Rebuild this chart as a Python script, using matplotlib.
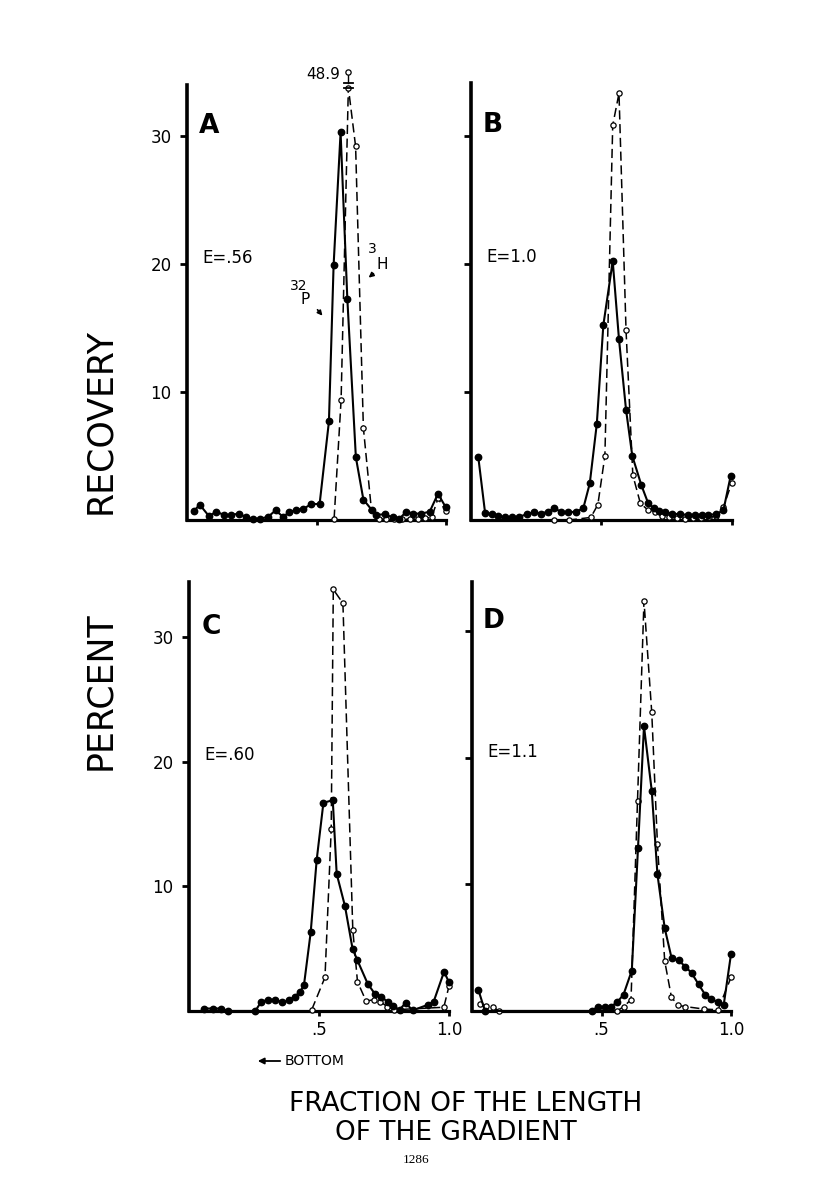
import matplotlib
matplotlib.use('Agg')
import matplotlib.pyplot as plt

W, H = 816, 1201

# panel A, E=.56
a_p_x = [0.027, 0.049, 0.085, 0.113, 0.142, 0.171, 0.201, 0.229, 0.255, 0.283,
         0.313, 0.342, 0.371, 0.394, 0.422, 0.448, 0.480, 0.512, 0.548, 0.566,
         0.593, 0.619, 0.652, 0.681, 0.713, 0.731, 0.763, 0.795, 0.820, 0.847,
         0.873, 0.905, 0.937, 0.969, 0.999]
a_p_y = [0.7, 1.2, 0.3, 0.65, 0.4, 0.4, 0.5, 0.2, 0.1, 0.1,
         0.25, 0.75, 0.25, 0.6, 0.8, 0.85, 1.25, 1.25, 7.7, 19.9,
         30.3, 17.3, 4.9, 1.6, 0.8, 0.4, 0.45, 0.2, 0.1, 0.65,
         0.5, 0.5, 0.65, 2.05, 1.0]
a_h_x = [0.568, 0.595, 0.623, 0.651, 0.681, 0.712, 0.740, 0.770, 0.800, 0.830,
         0.860, 0.890, 0.920, 0.945, 0.969, 0.999]
a_h_y = [0.1, 9.4, 48.9, 29.2, 7.2, 0.8, 0.1, 0.05, 0.05, 0.1,
         0.05, 0.1, 0.15, 0.2, 1.7, 0.7]

# panel B, E=1.0
b_p_x = [0.028, 0.054, 0.082, 0.105, 0.130, 0.158, 0.185, 0.213, 0.241, 0.268,
         0.294, 0.319, 0.345, 0.373, 0.402, 0.430, 0.455, 0.482, 0.507, 0.543,
         0.567, 0.594, 0.618, 0.653, 0.679, 0.701, 0.720, 0.743, 0.769, 0.801,
         0.830, 0.858, 0.884, 0.909, 0.938, 0.967, 0.995]
b_p_y = [4.9, 0.55, 0.45, 0.35, 0.2, 0.25, 0.25, 0.45, 0.6, 0.5,
         0.65, 0.9, 0.65, 0.6, 0.65, 0.9, 2.85, 7.5, 15.2, 20.2,
         14.1, 8.6, 5.0, 2.7, 1.3, 0.9, 0.7, 0.6, 0.5, 0.45,
         0.4, 0.4, 0.4, 0.4, 0.45, 0.75, 3.45]
b_h_x = [0.318, 0.377, 0.459, 0.486, 0.513, 0.543, 0.567, 0.594, 0.620, 0.649,
         0.677, 0.705, 0.730, 0.760, 0.790, 0.820, 0.850, 0.880, 0.910, 0.940,
         0.967, 0.999]
b_h_y = [0.0, 0.0, 0.2, 1.2, 5.0, 30.8, 33.3, 14.8, 3.5, 1.3,
         0.8, 0.6, 0.3, 0.2, 0.15, 0.1, 0.15, 0.15, 0.2, 0.3,
         1.0, 2.9]

# panel C, E=.60
c_p_x = [0.057, 0.092, 0.124, 0.150, 0.255, 0.278, 0.304, 0.330, 0.359, 0.385,
         0.406, 0.426, 0.442, 0.468, 0.491, 0.517, 0.553, 0.568, 0.600, 0.629,
         0.647, 0.687, 0.714, 0.740, 0.765, 0.785, 0.810, 0.833, 0.860, 0.919,
         0.941, 0.981, 1.0]
c_p_y = [0.2, 0.2, 0.2, 0.0, 0.0, 0.75, 0.9, 0.9, 0.7, 0.85,
         1.15, 1.5, 2.05, 6.3, 12.1, 16.7, 16.9, 11.0, 8.4, 5.0,
         4.1, 2.2, 1.4, 1.15, 0.7, 0.4, 0.1, 0.65, 0.05, 0.5,
         0.75, 3.15, 2.3]
c_h_x = [0.472, 0.523, 0.547, 0.555, 0.592, 0.630, 0.648, 0.681, 0.710, 0.736,
         0.762, 0.790, 0.980, 1.0]
c_h_y = [0.1, 2.7, 14.6, 36.7, 32.7, 6.5, 2.35, 0.8, 0.9, 0.75,
         0.35, 0.1, 0.3, 2.0]

# panel D, E=1.1
d_p_x = [0.025, 0.050, 0.462, 0.486, 0.512, 0.537, 0.561, 0.585, 0.617, 0.641,
         0.664, 0.694, 0.716, 0.744, 0.771, 0.798, 0.824, 0.848, 0.875, 0.901,
         0.923, 0.949, 0.972, 1.0]
d_p_y = [1.65, 0.0, 0.0, 0.35, 0.3, 0.35, 0.7, 1.3, 3.2, 12.9,
         22.5, 17.4, 10.8, 6.55, 4.15, 4.0, 3.5, 3.0, 2.1, 1.27,
         0.95, 0.7, 0.5, 4.5]
d_h_x = [0.029, 0.055, 0.080, 0.105, 0.560, 0.586, 0.614, 0.639, 0.664, 0.694,
         0.716, 0.744, 0.770, 0.795, 0.823, 0.897, 0.950, 1.0]
d_h_y = [0.55, 0.4, 0.3, 0.0, 0.0, 0.35, 0.9, 16.6, 32.4, 23.6,
         13.2, 3.95, 1.1, 0.45, 0.35, 0.15, 0.1, 2.65]

panels = [
    # letter, energy, p data, h data, rect in pixels (left, top, right, bottom), ytop
    ('A', 'E=.56', a_p_x, a_p_y, a_h_x, a_h_y, (187, 85, 446, 520), 34.0),
    ('B', 'E=1.0', b_p_x, b_p_y, b_h_x, b_h_y, (471, 83, 732, 520), 34.1),
    ('C', 'E=.60', c_p_x, c_p_y, c_h_x, c_h_y, (189, 582, 449, 1011), 34.4),
    ('D', 'E=1.1', d_p_x, d_p_y, d_h_x, d_h_y, (472, 582, 731, 1011), 33.9),
]

# anything above this is drawn broken at the top of the axis
break_level = 33.8

plt.rcParams['font.family'] = ['DejaVu Sans']


def fpos(x, y):
    return x / W, 1 - y / H


fig = plt.figure(figsize=(W / 100, H / 100), dpi=100)
fig.patch.set_facecolor('white')

axes = {}
for letter, energy, px_, py_, hx, hy, rect, ytop in panels:
    l, t, r, b = rect
    ax = fig.add_axes([l / W, 1 - b / H, (r - l) / W, (b - t) / H])
    axes[letter] = ax
    ax.set_xlim(0, 1.0)
    ax.set_ylim(0, ytop)
    for s in ('top', 'right'):
        ax.spines[s].set_visible(False)
    ax.spines['left'].set_linewidth(2.6)
    ax.spines['bottom'].set_linewidth(2.3)

    shown = [min(v, break_level) for v in hy]
    ax.plot(hx, shown, color='black', lw=1.1, ls=(0, (6, 3)),
            marker='o', ms=3.8, mfc='white', mec='black', mew=0.9,
            zorder=3, clip_on=False)
    ax.plot(px_, py_, color='black', lw=1.5, marker='o', ms=4.6,
            mfc='black', mec='black', zorder=4, clip_on=False)

    ax.set_yticks([10, 20, 30])
    ax.set_xticks([0.5, 1.0])
    ax.tick_params(axis='y', direction='out', length=5, width=2, pad=6,
                   labelsize=12)
    ax.tick_params(axis='x', direction='out', length=3.5, width=2, pad=4,
                   labelsize=12)
    if letter in ('A', 'C'):
        ax.set_yticklabels(['10', '20', '30'])
    else:
        ax.set_yticklabels([])
    if letter in ('C', 'D'):
        ax.set_xticklabels(['.5', '1.0'])
    else:
        ax.set_xticklabels([])

    ax.text(0.085, 30.8, letter, fontsize=19, fontweight='bold',
            ha='center', va='center')
    ax.text(0.06, 20.5, energy, fontsize=12, ha='left', va='center')

# broken peak of 3H in panel A
ax = axes['A']
i_max = a_h_y.index(max(a_h_y))
xb = a_h_x[i_max]
for yb in (33.8, 34.15):
    ax.plot([xb - 0.018, xb + 0.018], [yb, yb], color='black', lw=1.3,
            clip_on=False, zorder=5)
ax.plot([xb, xb], [34.15, 34.8], color='black', lw=1.0, clip_on=False)
ax.plot([xb], [35.0], marker='o', ms=3.8, mfc='white', mec='black',
        mew=0.9, clip_on=False, zorder=5)
ax.text(xb - 0.03, 34.85, f'{max(a_h_y):.1f}', fontsize=11,
        ha='right', va='center')

# isotope labels
ax.text(0.398, 18.3, '32', fontsize=10, ha='left', va='center')
ax.text(0.438, 17.2, 'P', fontsize=11, ha='left', va='center')
ax.annotate('', xy=(0.530, 15.8), xytext=(0.497, 16.6),
            arrowprops=dict(arrowstyle='-|>', color='black', lw=1.2,
                            mutation_scale=7))
ax.text(0.700, 21.2, '3', fontsize=10, ha='left', va='center')
ax.text(0.730, 20.0, 'H', fontsize=11, ha='left', va='center')
ax.annotate('', xy=(0.693, 18.8), xytext=(0.728, 19.4),
            arrowprops=dict(arrowstyle='-|>', color='black', lw=1.2,
                            mutation_scale=7))

# shared axis titles
fig.text(*fpos(100, 421), 'RECOVERY', rotation=90, fontsize=25,
         ha='center', va='center')
fig.text(*fpos(100, 691), 'PERCENT', rotation=90, fontsize=25,
         ha='center', va='center')
fig.text(*fpos(466, 1104), 'FRACTION OF THE LENGTH', fontsize=19,
         ha='center', va='center')
fig.text(*fpos(456, 1133), 'OF THE GRADIENT', fontsize=19,
         ha='center', va='center')

fig.text(*fpos(285, 1061), 'BOTTOM', fontsize=10, ha='left', va='center')
fig.patches.append(matplotlib.patches.FancyArrowPatch(
    fpos(283, 1061), fpos(255, 1061), transform=fig.transFigure,
    arrowstyle='-|>', mutation_scale=9, lw=1.3, color='black'))

fig.text(*fpos(416, 1160), '1286', fontsize=9.5, family='Liberation Serif',
         ha='center', va='center')

fig.savefig('out.png', dpi=100, facecolor='white')
